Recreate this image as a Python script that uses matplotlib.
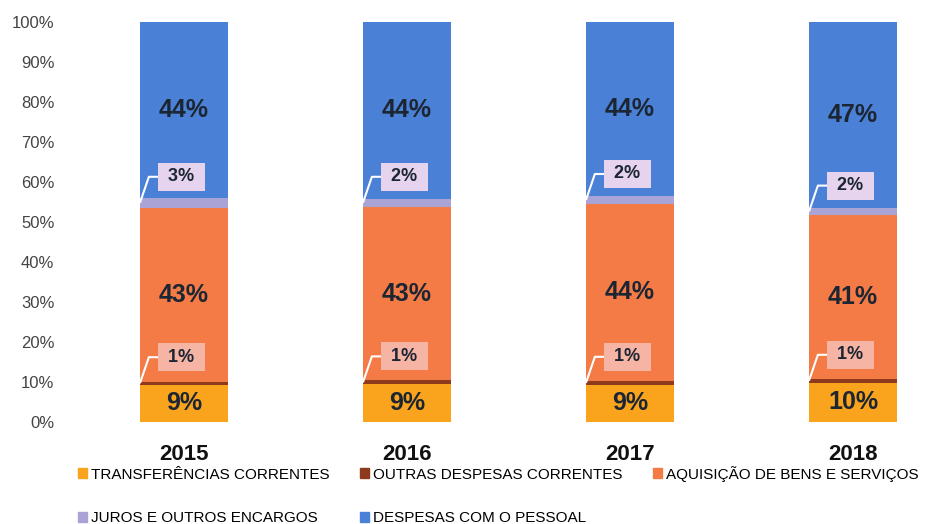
import numpy as np
import matplotlib.pyplot as plt
from matplotlib.patches import Patch

# Data (shares of total expenditure, %)
years = ["2015", "2016", "2017", "2018"]
series_names = ["TRANSFERÊNCIAS CORRENTES", "OUTRAS DESPESAS CORRENTES",
                "AQUISIÇÃO DE BENS E SERVIÇOS", "JUROS E OUTROS ENCARGOS",
                "DESPESAS COM O PESSOAL"]
transferencias = [9.3, 9.4, 9.3, 9.8]
outras = [0.8, 1.0, 1.0, 1.0]
aquisicao = [43.4, 43.4, 44.3, 41.0]
juros = [2.6, 2.0, 1.8, 1.6]
pessoal = [43.9, 44.2, 43.6, 46.6]
y_ticks = [0, 10, 20, 30, 40, 50, 60, 70, 80, 90, 100]

colors = ["#f9a41c", "#8e3a1c", "#f47b46", "#aaa3d6", "#4a80d6"]
box_colors = {1: "#f6b4a4", 3: "#e6d4ee"}
txt_color = "#1c2633"

plt.rcParams['font.family'] = ['Liberation Sans', 'DejaVu Sans']

fig = plt.figure(figsize=(9.3, 5.24), dpi=100)
# axes placed in pixels: x 60..925, y 22..422
ax = fig.add_axes([60 / 930, 102 / 524, 865 / 930, 400 / 524])

x = np.arange(len(years))
width = 0.395
data = [transferencias, outras, aquisicao, juros, pessoal]
bottom = np.zeros(len(years))
for i, vals in enumerate(data):
    vals = np.array(vals)
    ax.bar(x, vals, width, bottom=bottom, color=colors[i], zorder=2)
    for j in range(len(years)):
        mid = bottom[j] + vals[j] / 2
        label = f"{vals[j]:.0f}%"
        if i in (1, 3):
            # small segment: boxed label with leader line
            ly = mid + 6.5
            xl = x[j] - width / 2
            ax.plot([xl, xl + 0.04, x[j] - 0.11], [mid, ly, ly],
                    color="white", lw=1.5, zorder=3, solid_capstyle="butt")
            ax.text(x[j] - 0.013, ly, " " + label + " ", ha="center", va="center",
                    fontsize=13, fontweight="bold", color=txt_color, zorder=4,
                    bbox=dict(boxstyle="square,pad=0.3", fc=box_colors[i], ec="none"))
        else:
            ax.text(x[j], mid, label, ha="center", va="center", fontsize=18,
                    fontweight="bold", color=txt_color, zorder=4)
    bottom += vals

ax.set_xlim((60 - 184) / 223, (925 - 184) / 223)
ax.set_ylim(0, 100)
ax.set_yticks(y_ticks)
ax.set_yticklabels([f"{t}%" for t in y_ticks], fontsize=12, color="#444444")
ax.set_xticks(x)
ax.set_xticklabels(years, fontsize=16, fontweight="bold", color="#111111")
ax.tick_params(axis="both", length=0)
ax.tick_params(axis="x", pad=16)
ax.tick_params(axis="y", pad=4)
for s in ax.spines.values():
    s.set_visible(False)

# legend, row-major order: T, O, A / J, D
handles = [Patch(color=c) for c in colors]
order = [0, 3, 1, 4, 2]
fig.legend([handles[k] for k in order], [series_names[k] for k in order],
           ncol=3, loc="upper left", bbox_to_anchor=(70 / 930, 1 - 458 / 524),
           frameon=False, fontsize=11, handlelength=0.6, handleheight=0.6,
           handletextpad=0.25, columnspacing=2.0, labelspacing=1.95, borderpad=0)

fig.savefig("out.png", dpi=100)
